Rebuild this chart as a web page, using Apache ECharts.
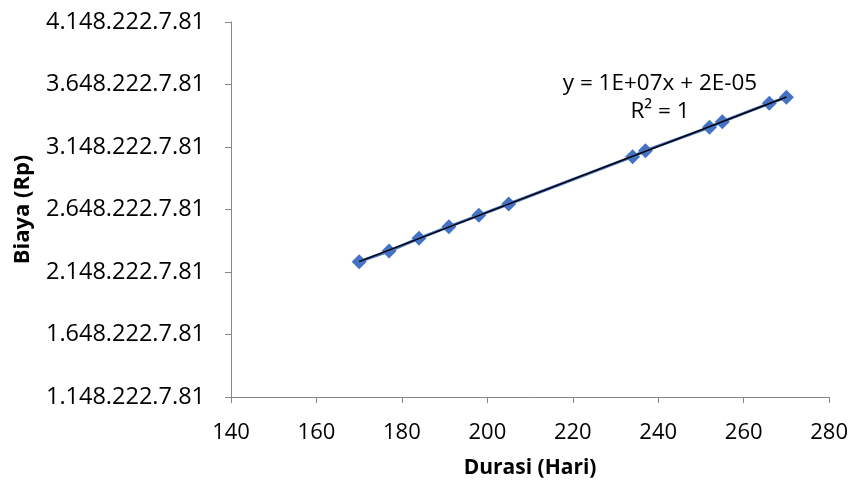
<!DOCTYPE html>
<html>
<head>
<meta charset="utf-8">
<script src="https://cdn.jsdelivr.net/npm/echarts@6/dist/echarts.min.js"></script>
<style>
html,body{margin:0;padding:0;background:#fff;}
#chart{width:851px;height:486px;}
</style>
</head>
<body>
<div id="chart"></div>
<script>
// Durasi (hari)
var durasi = [170, 177, 184, 191, 198, 205, 234, 237, 252, 255, 266, 270];
// Biaya (Rp)
var biaya = [2230600, 2316200, 2417800, 2510600, 2601800, 2692200, 3070600, 3118600, 3305800, 3350600, 3497800, 3545800];
// Y tick values and their labels
var yTickValues = [1148222.781, 1648222.781, 2148222.781, 2648222.781, 3148222.781, 3648222.781, 4148222.781];
var yTickLabels = ['1.148.222.7.81', '1.648.222.7.81', '2.148.222.7.81', '2.648.222.7.81', '3.148.222.7.81', '3.648.222.7.81', '4.148.222.7.81'];
var xTicks = [140, 160, 180, 200, 220, 240, 260, 280];
var eqText = 'y = 1E+07x + 2E-05';
var r2Text = 'R² = 1';

// linear regression for trendline
var n = durasi.length, sx = 0, sy = 0, sxx = 0, sxy = 0;
for (var i = 0; i < n; i++) { sx += durasi[i]; sy += biaya[i]; sxx += durasi[i]*durasi[i]; sxy += durasi[i]*biaya[i]; }
var slope = (n*sxy - sx*sy) / (n*sxx - sx*sx);
var icpt = (sy - slope*sx) / n;
var xMin = Math.min.apply(null, durasi), xMax = Math.max.apply(null, durasi);
var trend = [[xMin, icpt + slope*xMin], [xMax, icpt + slope*xMax]];

var pts = durasi.map(function(d, i){ return [d, biaya[i]]; });
var FONT = '"Open Sans", sans-serif';
var axisColor = '#868686';

var chart = echarts.init(document.getElementById('chart'), null, {renderer: 'canvas'});
chart.setOption({
  animation: false,
  backgroundColor: '#ffffff',
  grid: {left: 231, right: 20, top: 22, bottom: 89, containLabel: false},
  xAxis: {
    type: 'value', min: xTicks[0], max: xTicks[xTicks.length-1], interval: 20,
    name: 'Durasi (Hari)', nameLocation: 'middle', nameGap: 61,
    nameTextStyle: {fontFamily: FONT, fontWeight: 'bold', fontSize: 21, color: '#000'},
    axisLine: {show: true, lineStyle: {color: axisColor, width: 1}},
    axisTick: {show: true, length: 6, inside: false, lineStyle: {color: axisColor}},
    axisLabel: {fontFamily: FONT, fontSize: 22, color: '#000', margin: 25},
    splitLine: {show: false}
  },
  yAxis: {
    type: 'value', min: yTickValues[0], max: yTickValues[yTickValues.length-1],
    name: 'Biaya (Rp)', nameLocation: 'middle', nameGap: 197, nameRotate: 90,
    nameTextStyle: {fontFamily: FONT, fontWeight: 'bold', fontSize: 22, color: '#000'},
    axisLine: {show: true, lineStyle: {color: axisColor, width: 1}},
    axisTick: {show: true, length: 6, inside: false, lineStyle: {color: axisColor}, customValues: yTickValues},
    axisLabel: {
      fontFamily: FONT, fontSize: 23.5, color: '#000', margin: 26, customValues: yTickValues,
      formatter: function(v){
        for (var k = 0; k < yTickValues.length; k++) { if (Math.abs(v - yTickValues[k]) < 1) return yTickLabels[k]; }
        return '';
      }
    },
    splitLine: {show: false}
  },
  series: [
    {
      type: 'line', data: pts, symbol: 'diamond', symbolSize: 15,
      lineStyle: {color: '#4472C4', width: 3},
      itemStyle: {color: '#4472C4'},
      z: 2
    },
    {
      type: 'line', data: trend, symbol: 'none',
      lineStyle: {color: '#000000', width: 1.5},
      z: 3
    }
  ],
  graphic: [
    {type: 'text', x: 660, y: 84, style: {text: eqText, font: '22.5px "Open Sans", sans-serif', fill: '#000', align: 'center', verticalAlign: 'middle'}},
    {type: 'text', x: 660, y: 112, style: {text: r2Text, font: '22.5px "Open Sans", sans-serif', fill: '#000', align: 'center', verticalAlign: 'middle'}}
  ]
});
</script>
</body>
</html>
